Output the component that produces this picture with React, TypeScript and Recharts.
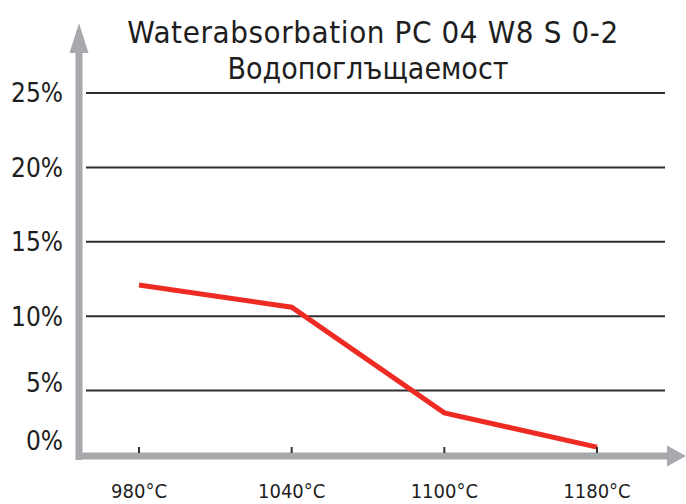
import React from 'react';
import * as R from 'recharts';

const { LineChart, Line, XAxis, YAxis, CartesianGrid } = R as any;

const categories = ['980°C', '1040°C', '1100°C', '1180°C'];
const waterAbsorption = [12.1, 10.6, 3.5, 1.2];
const yTicks = [0, 5, 10, 15, 20, 25];
const titleLines = ['Waterabsorbation PC 04 W8 S 0-2', 'Водопоглъщаемост'];

const data = categories.map((c, i) => ({ temp: c, value: waterAbsorption[i] }));

const FONT = "'Liberation Sans Narrow', 'DejaVu Sans Condensed', Roboto, sans-serif";
const AXIS_GREY = '#a7a9ac';
const TEXT = '#1e1e1e';
const W = 686;
const H = 504;

function Decorations() {
  const offset = (R as any).useOffset ? (R as any).useOffset() : null;
  if (!offset) return null;
  const left = offset.left;
  const right = W - offset.right;
  const bottom = H - offset.bottom;
  const ax = left - 7;
  return (
    <g>
      <text x={373} y={43} textAnchor="middle" fontSize={31} letterSpacing={0.6} fill={TEXT} fontFamily={FONT}>{titleLines[0]}</text>
      <text x={368} y={79} textAnchor="middle" fontSize={30} fill={TEXT} fontFamily={FONT}>{titleLines[1]}</text>
      <line x1={ax} y1={bottom + 4} x2={ax} y2={48} stroke={AXIS_GREY} strokeWidth={7} />
      <polygon points={`${ax - 9.5},53 ${ax + 9.5},53 ${ax},23`} fill={AXIS_GREY} />
      <line x1={ax - 3} y1={bottom} x2={right + 4} y2={bottom} stroke={AXIS_GREY} strokeWidth={7} />
      <polygon points={`${right + 2},${bottom - 10.5} ${right + 2},${bottom + 10.5} ${W},${bottom}`} fill={AXIS_GREY} />
    </g>
  );
}

const YTick = (props: any) => {
  const { x, y, payload } = props;
  const dy = payload.value === 0 ? -24 : payload.value === 5 ? -8 : 0;
  return (
    <text x={x} y={y + dy} dy="0.36em" textAnchor="end" fontSize={26} fill={TEXT} fontFamily={FONT}>
      {payload.value}%
    </text>
  );
};

const XTick = (props: any) => {
  const { x, y, payload } = props;
  return (
    <g>
      <line x1={x} y1={y - 9} x2={x} y2={y - 3} stroke="#333" strokeWidth={2} />
      <text x={x} y={y + 42} textAnchor="middle" fontSize={20} fill={TEXT} fontFamily={FONT}>
        {payload.value}
      </text>
    </g>
  );
};

export default function App() {
  return (
    <div style={{ position: 'absolute', left: 0, top: 0, width: W, height: H, background: '#fff' }}>
      <LineChart width={W} height={H} data={data} margin={{ top: 93, right: 21, left: 0, bottom: 0 }}>
        <CartesianGrid
          vertical={false}
          horizontalValues={yTicks.filter((v) => v > 0)}
          stroke="#2e2e2e"
          strokeWidth={2}
        />
        <XAxis
          dataKey="temp"
          height={48}
          axisLine={false}
          tickLine={false}
          tickSize={0}
          tickMargin={0}
          padding={{ left: 53, right: 68 }}
          tick={<XTick />}
          interval={0}
        />
        <YAxis
          width={86}
          domain={[0.6, 25]}
          ticks={yTicks}
          allowDataOverflow
          axisLine={false}
          tickLine={false}
          tickSize={0}
          tickMargin={23}
          tick={<YTick />}
          interval={0}
        />
        <Line
          dataKey="value"
          type="linear"
          stroke="#ee2b22"
          strokeWidth={5}
          dot={false}
          isAnimationActive={false}
        />
        <Decorations />
      </LineChart>
    </div>
  );
}
